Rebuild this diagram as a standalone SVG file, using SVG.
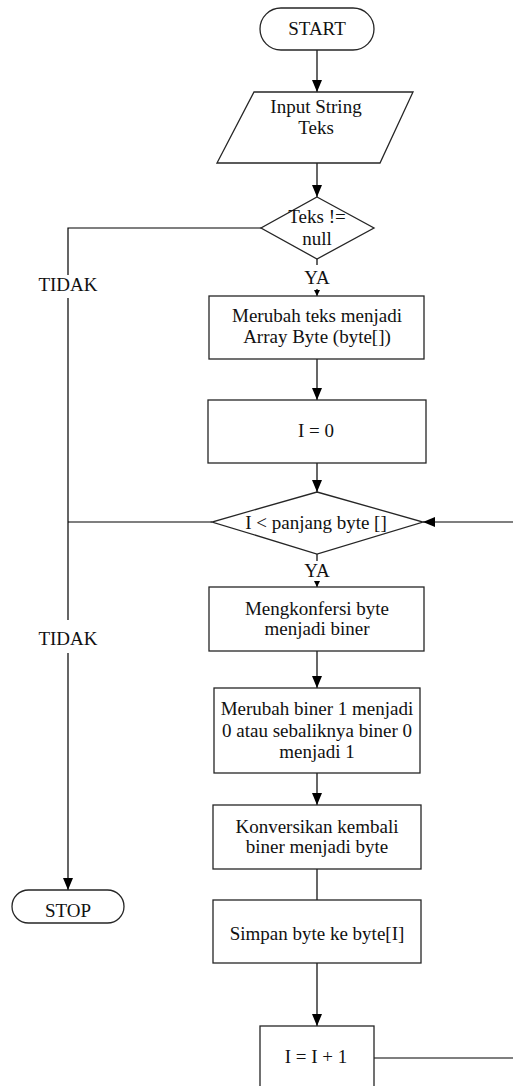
<svg xmlns="http://www.w3.org/2000/svg" width="513" height="1086" viewBox="0 0 513 1086">
<style>
.shape{fill:#fff;stroke:#262626;stroke-width:1.3}
.line{fill:none;stroke:#000;stroke-width:1.2}
text{font-family:"Liberation Serif","Times New Roman",serif;font-size:19px;fill:#111;text-anchor:middle}
</style>
<defs>
<marker id="arr" viewBox="0 0 12 10" refX="12" refY="5" markerWidth="12" markerHeight="10" markerUnits="userSpaceOnUse" orient="auto">
<path d="M0,0 L12,5 L0,10 Z" fill="#000"/>
</marker>
<marker id="arrs" viewBox="0 0 6 6" refX="6" refY="3" markerWidth="6" markerHeight="6" markerUnits="userSpaceOnUse" orient="auto">
<path d="M0,0 L6,3 L0,6 Z" fill="#000"/>
</marker>
</defs>
<rect width="513" height="1086" fill="#fff"/>
<g id="connectors">
<path class="line" d="M317,50 V92" marker-end="url(#arr)"/>
<path class="line" d="M317,163 V197" marker-end="url(#arr)"/>
<path class="line" d="M317,259 V265 M317,289 V296" marker-end="url(#arrs)"/>
<path class="line" d="M317,359 V400" marker-end="url(#arr)"/>
<path class="line" d="M317,463 V492" marker-end="url(#arr)"/>
<path class="line" d="M317,554 V561 M317,581 V587" marker-end="url(#arrs)"/>
<path class="line" d="M317,651 V688" marker-end="url(#arr)"/>
<path class="line" d="M317,773 V805" marker-end="url(#arr)"/>
<path class="line" d="M317,869 V900"/>
<path class="line" d="M317,963 V1026" marker-end="url(#arr)"/>
<path class="line" d="M374,1058 H513"/>
<path class="line" d="M513,522 H423" marker-end="url(#arr)"/>
<path class="line" d="M261,228 H68 V275 M68,298 V620 M68,653 V890" marker-end="url(#arr)"/>
<path class="line" d="M212,522 H68"/>
<text x="68" y="291">TIDAK</text>
<text x="68" y="645">TIDAK</text>
<text x="317" y="284">YA</text>
<text x="317" y="577">YA</text>
</g>
<g id="start">
<rect class="shape" x="260" y="8" width="114" height="42" rx="21" ry="21"/>
<text x="317" y="35">START</text>
</g>
<g id="input">
<polygon class="shape" points="254,92 413,92 380,163 217,163"/>
<text x="316" y="113">Input String</text>
<text x="316" y="134">Teks</text>
</g>
<g id="decision1">
<polygon class="shape" points="317,197 374,228 317,259 261,228"/>
<text x="317" y="223">Teks !=</text>
<text x="317" y="245">null</text>
</g>
<g id="toArray">
<rect class="shape" x="209" y="296" width="215" height="63"/>
<text x="317" y="322">Merubah teks menjadi</text>
<text x="317" y="343">Array Byte (byte[])</text>
</g>
<g id="init">
<rect class="shape" x="208" y="400" width="218" height="63"/>
<text x="316" y="437">I = 0</text>
</g>
<g id="decision2">
<polygon class="shape" points="317,492 423,522 317,554 212,522"/>
<text x="316" y="529">I &lt; panjang byte []</text>
</g>
<g id="toBinary">
<rect class="shape" x="209" y="587" width="215" height="64"/>
<text x="317" y="615">Mengkonfersi byte</text>
<text x="317" y="635">menjadi biner</text>
</g>
<g id="invert">
<rect class="shape" x="214" y="688" width="206" height="85"/>
<text x="317" y="715">Merubah biner 1 menjadi</text>
<text x="317" y="737">0 atau sebaliknya biner 0</text>
<text x="317" y="758">menjadi 1</text>
</g>
<g id="toByte">
<rect class="shape" x="213" y="805" width="208" height="64"/>
<text x="317" y="833">Konversikan kembali</text>
<text x="317" y="853">biner menjadi byte</text>
</g>
<g id="store">
<rect class="shape" x="213" y="900" width="208" height="63"/>
<text x="317" y="940">Simpan byte ke byte[I]</text>
</g>
<g id="increment">
<rect class="shape" x="260" y="1026" width="114" height="80"/>
<text x="316" y="1063">I = I + 1</text>
</g>
<g id="stop">
<rect class="shape" x="12" y="890" width="112" height="33" rx="16.5" ry="16.5"/>
<text x="68" y="917">STOP</text>
</g>
</svg>
